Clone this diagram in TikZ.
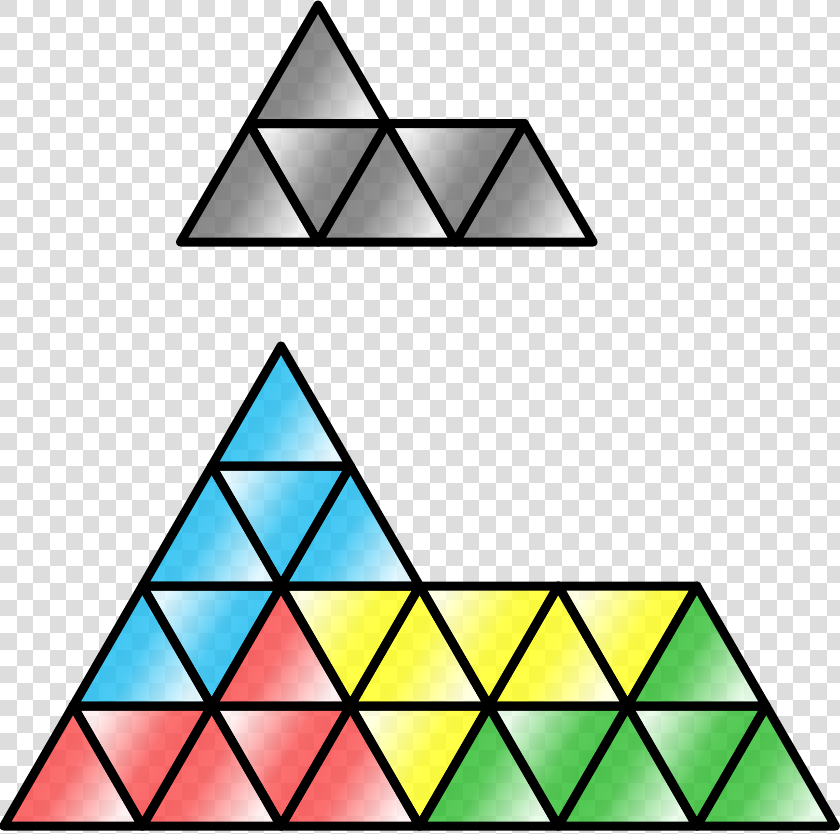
\documentclass[tikz,border=0pt]{standalone}
\definecolor{chk}{RGB}{221,221,221}
\definecolor{blueS}{RGB}{0,180,240}
\definecolor{blueL}{RGB}{220,246,255}
\definecolor{redS}{RGB}{250,50,50}
\definecolor{redL}{RGB}{255,238,238}
\definecolor{yelS}{RGB}{255,255,0}
\definecolor{yelL}{RGB}{255,255,220}
\definecolor{grnS}{RGB}{20,180,20}
\definecolor{grnL}{RGB}{228,250,228}
\definecolor{gryS}{RGB}{95,95,95}
\definecolor{gryL}{RGB}{238,238,238}
\colorlet{blueM}{blueS!85!blueL}
\colorlet{redM}{redS!85!redL}
\colorlet{yelM}{yelS!85!yelL}
\colorlet{grnM}{grnS!85!grnL}
\colorlet{gryM}{gryS!85!gryL}
\tikzset{
  edge/.style={line width=9pt, line join=round, line cap=round, draw=black},
  tilefill/.style={fill opacity=0.8}
}
\def\Ufill#1#2#3{\path[tilefill, top color=#3S, bottom color=#3L, middle color=#3M, shading angle=60] (#1,#2) -- ++(\A,0) -- ++(-\A/2,-\H) -- cycle;}
\def\Dfill#1#2#3{\path[tilefill, top color=#3S, bottom color=#3L, middle color=#3M, shading angle=240] (#1,#2) -- ++(\A,0) -- ++(-\A/2,\H) -- cycle;}
\def\Uedge#1#2#3{\draw[edge] (#1,#2) -- ++(\A,0) -- ++(-\A/2,-\H) -- cycle;}
\def\Dedge#1#2#3{\draw[edge] (#1,#2) -- ++(\A,0) -- ++(-\A/2,\H) -- cycle;}
\def\GrayTiles{%
  \U{249.25}{123.5}{gry}
  \U{180.5}{242}{gry}\U{318}{242}{gry}\U{455.5}{242}{gry}
  \D{249.25}{123.5}{gry}\D{386.75}{123.5}{gry}}
\def\ColorTiles{%
  \U{211.7}{466}{blue}
  \U{142.4}{586}{blue}\U{281}{586}{blue}
  \D{211.7}{466}{blue}
  \U{73.1}{706}{blue}\U{211.7}{706}{red}\U{350.3}{706}{yel}\U{488.9}{706}{yel}\U{627.5}{706}{grn}
  \D{142.4}{586}{blue}\D{281}{586}{yel}\D{419.6}{586}{yel}\D{558.2}{586}{yel}
  \U{3.8}{826}{red}\U{142.4}{826}{red}\U{281}{826}{red}\U{419.6}{826}{grn}\U{558.2}{826}{grn}\U{696.8}{826}{grn}
  \D{73.1}{706}{red}\D{211.7}{706}{red}\D{350.3}{706}{yel}\D{488.9}{706}{grn}\D{627.5}{706}{grn}}
\begin{document}
\begin{tikzpicture}[x=1pt,y=-1pt]
  \useasboundingbox (0,0) rectangle (840,833);
  % transparency checkerboard
  \fill[white] (0,0) rectangle (840,833);
  \foreach \i in {0,...,50}{%
    \foreach \j in {0,...,50}{%
      \ifodd\numexpr\i+\j\relax\else
        \fill[chk] ({\i*16.53},{\j*16.66}) rectangle ++(16.53,16.66);
      \fi
    }%
  }
  % gray shape
  \def\A{137.5}\def\H{118.5}
  \let\U\Ufill\let\D\Dfill \GrayTiles
  \let\U\Uedge\let\D\Dedge \GrayTiles
  % coloured shape
  \def\A{138.6}\def\H{120}
  \let\U\Ufill\let\D\Dfill \ColorTiles
  \let\U\Uedge\let\D\Dedge \ColorTiles
\end{tikzpicture}
\end{document}
